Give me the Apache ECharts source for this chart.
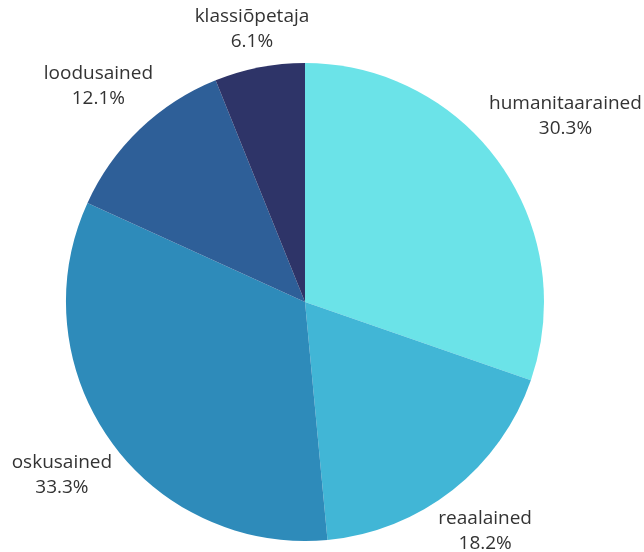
<!DOCTYPE html>
<html>
<head>
<meta charset="utf-8">
<script src="https://cdn.jsdelivr.net/npm/echarts@6/dist/echarts.min.js"></script>
<style>
  html, body { margin: 0; padding: 0; background: #fff; }
  #chart { width: 644px; height: 552px; }
</style>
</head>
<body>
<div id="chart"></div>
<script>
const categories = ['humanitaarained', 'reaalained', 'oskusained', 'loodusained', 'klassiõpetaja']
const values = [30.3, 18.2, 33.3, 12.1, 6.1]
const colors = ['#6be3e8', '#41b6d6', '#2e8bba', '#2e5f98', '#2e3468']

const CX = 305
const CY = 302
const R = 239
const GAP = 4

const total = values.reduce((a, b) => a + b, 0)

// средний угол сектора (по часовой от 12 часов)
const midAngle = (idx) => {
  let before = 0
  for (let i = 0; i < idx; i++) before += values[i]
  const frac = (before + values[idx] / 2) / total
  return (90 - frac * 360) * Math.PI / 180
}

const chart = echarts.init(document.getElementById('chart'))

chart.setOption({
  animation: false,
  series: [
    {
      type: 'pie',
      center: [CX, CY],
      radius: R,
      startAngle: 90,
      clockwise: true,
      avoidLabelOverlap: false,
      data: categories.map((name, i) => ({
        name: name,
        value: values[i],
        itemStyle: { color: colors[i] }
      })),
      label: {
        show: true,
        position: 'outside',
        formatter: p => p.name + '\n' + p.value.toFixed(1) + '%',
        fontFamily: 'Open Sans',
        fontSize: 19,
        lineHeight: 25,
        color: '#333333',
        overflow: 'none'
      },
      labelLine: { show: false },
      labelLayout: function (params) {
        const a = midAngle(params.dataIndex)
        const c = Math.cos(a)
        const s = Math.sin(a)
        const w = params.labelRect.width
        const h = params.labelRect.height
        const d = R + GAP + (w / 2) * Math.abs(c) + (h / 2) * Math.abs(s)
        return {
          x: CX + d * c,
          y: CY - d * s,
          align: 'center',
          verticalAlign: 'middle'
        }
      }
    }
  ]
})
</script>
</body>
</html>
